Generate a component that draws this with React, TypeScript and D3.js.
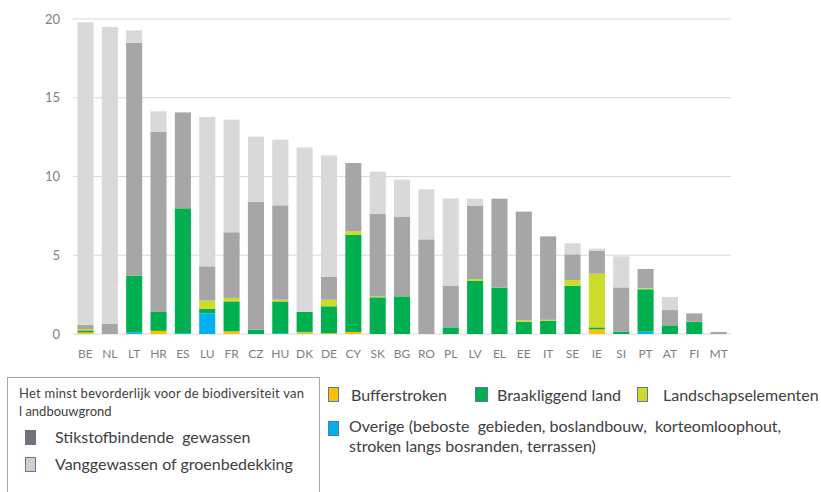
import React from 'react';
import * as d3 from 'd3';

// categories and series (ha share)
const countries = ['BE','NL','LT','HR','ES','LU','FR','CZ','HU','DK','DE','CY','SK','BG','RO','PL','LV','EL','EE','IT','SE','IE','SI','PT','AT','FI','MT'];

const overige =    [0,0,0.1,0,0.05,1.31,0,0,0.05,0.03,0,0,0,0,0,0,0,0,0,0,0,0,0,0.15,0,0,0];
const buffer =     [0.1,0,0,0.2,0,0,0.17,0,0,0.1,0.05,0.13,0,0,0,0,0,0,0,0,0,0.3,0,0,0,0,0];
const braak =      [0.13,0,3.6,1.2,7.93,0.28,1.9,0.28,2.02,1.27,1.71,6.16,2.33,2.39,0,0.42,3.39,2.94,0.76,0.85,3.07,0.12,0.15,2.69,0.55,0.78,0];
const landschap =  [0.09,0,0,0,0,0.53,0.22,0,0.11,0,0.42,0.23,0.05,0,0,0,0.1,0,0.1,0.05,0.36,3.41,0,0.06,0,0,0];
const stikstof =   [0.27,0.66,14.78,11.43,6.09,2.18,4.17,8.12,5.99,0,1.44,4.34,5.24,5.04,6.01,2.65,4.64,5.65,6.91,5.3,1.63,1.44,2.81,1.23,0.97,0.53,0.13];
const vang =       [19.2,18.83,0.8,1.31,0,9.48,7.15,4.13,4.17,10.45,7.72,0,2.69,2.37,3.18,5.54,0.46,0,0,0,0.7,0.15,1.97,0,0.83,0,0];

const yTicks = [0, 5, 10, 15, 20];

const seriesKeys = ['overige', 'buffer', 'braak', 'landschap', 'stikstof', 'vang'];
const colors: Record<string, string> = {
  overige: '#00b0f0',
  buffer: '#ffc000',
  braak: '#00b050',
  landschap: '#cddc29',
  stikstof: '#a6a6a6',
  vang: '#d9d9d9',
};

const font = "Lato, 'Open Sans', sans-serif";

export default function App() {
  const width = 821;
  const height = 492;

  const x = d3.scaleBand<string>()
    .domain(countries)
    .range([73.3, 730.8])
    .paddingInner(0.34)
    .paddingOuter(0.17);

  const y = d3.scaleLinear().domain([0, 20]).range([334, 19]);

  const rows = countries.map((c, i) => ({
    country: c,
    overige: overige[i],
    buffer: buffer[i],
    braak: braak[i],
    landschap: landschap[i],
    stikstof: stikstof[i],
    vang: vang[i],
  }));

  const stacked = d3.stack<any>().keys(seriesKeys)(rows);

  const textColor = '#404040';
  const legendText = { fontFamily: font, fontSize: 16, fill: textColor, style: { whiteSpace: 'pre' as const } };

  return (
    <svg width={width} height={height} style={{ position: 'absolute', left: 0, top: 0, background: '#fff' }}>
      {/* gridlines */}
      {yTicks.map(t => (
        <g key={t}>
          <line x1={73} x2={731} y1={y(t)} y2={y(t)} stroke="#d9d9d9" strokeWidth={1.2} />
          <text x={60} y={y(t)} dy="0.35em" textAnchor="end" fontFamily={font} fontSize={13} fill="#7f7f7f">{t}</text>
        </g>
      ))}

      {/* bars */}
      {stacked.map(s => (
        <g key={s.key} fill={colors[s.key]}>
          {s.map((d, i) => {
            const h = y(d[0]) - y(d[1]);
            if (h <= 0) return null;
            return (
              <rect key={i} x={x(countries[i])} width={x.bandwidth()} y={y(d[1])} height={h} />
            );
          })}
        </g>
      ))}

      {/* x labels */}
      {countries.map(c => (
        <text key={c} x={(x(c) as number) + x.bandwidth() / 2} y={358} textAnchor="middle"
          fontFamily={font} fontSize={12} fill="#7f7f7f">{c}</text>
      ))}

      {/* left legend box */}
      <rect x={7.5} y={377.5} width={312} height={130} fill="none" stroke="#a6a6a6" strokeWidth={1} />
      <text x={19} y={398} fontFamily={font} fontSize={13} fill={textColor} textLength={285} lengthAdjust="spacing">Het minst bevorderlijk voor de biodiversiteit van</text>
      <text x={19} y={416} fontFamily={font} fontSize={13} fill={textColor}>l andbouwgrond</text>
      <rect x={25.5} y={430.5} width={10} height={14} fill="#767171" stroke="#5b7a9a" strokeWidth={1} />
      <text x={55} y={443} {...legendText}>Stikstofbindende  gewassen</text>
      <rect x={25.5} y={457.5} width={10} height={14} fill="#d0cece" stroke="#5b7a9a" strokeWidth={1} />
      <text x={55} y={470} {...legendText}>Vanggewassen of groenbedekking</text>

      {/* right legend */}
      <rect x={328.5} y={387.5} width={10} height={14} fill="#ffc000" stroke="#5b7a9a" strokeWidth={1} />
      <text x={351} y={401} {...legendText}>Bufferstroken</text>
      <rect x={475.5} y={387.5} width={12} height={14} fill="#00b050" stroke="#5b7a9a" strokeWidth={1} />
      <text x={497} y={401} {...legendText}>Braakliggend land</text>
      <rect x={637.5} y={387.5} width={10} height={14} fill="#cddc29" stroke="#5b7a9a" strokeWidth={1} />
      <text x={663} y={401} {...legendText}>Landschapselementen</text>
      <rect x={328.5} y={421.5} width={10} height={14} fill="#00b0f0" stroke="#5b7a9a" strokeWidth={1} />
      <text x={349} y={432} {...legendText}>Overige (beboste  gebieden, boslandbouw,  korteomloophout,</text>
      <text x={349} y={452} {...legendText}>stroken langs bosranden, terrassen)</text>
    </svg>
  );
}
